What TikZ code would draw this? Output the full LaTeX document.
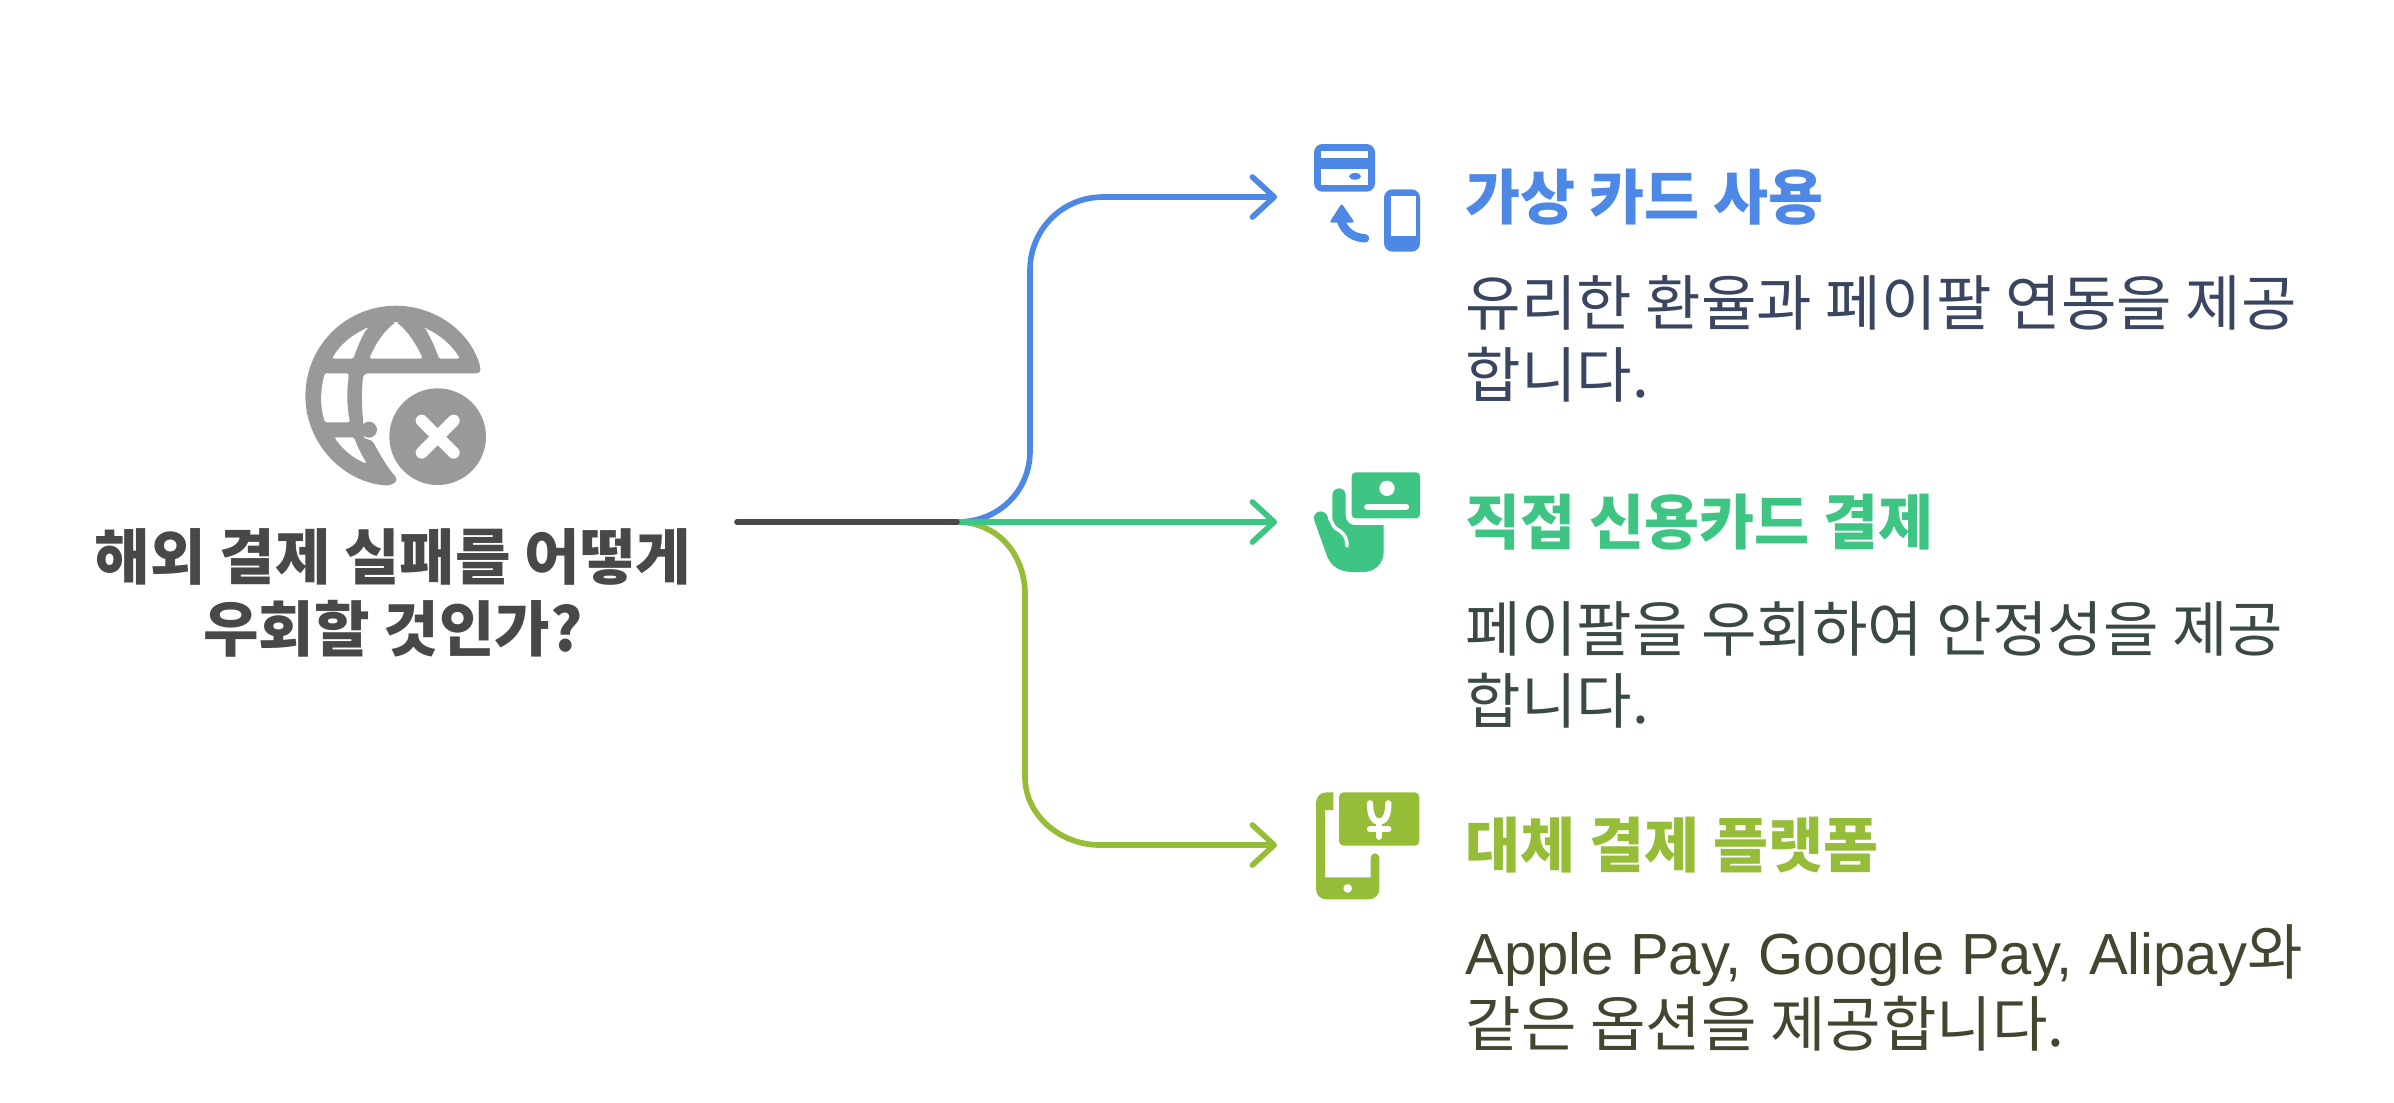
\documentclass[tikz,border=0pt]{standalone}
\usepackage{fontspec}
\usetikzlibrary{arrows.meta}
\setmainfont{Noto Sans CJK KR}
\newfontfamily\latinfont[Scale=0.962]{Liberation Sans}

\definecolor{bluetone}{HTML}{4E88E7}
\definecolor{greentone}{HTML}{3EC583}
\definecolor{olivetone}{HTML}{95BD37}
\definecolor{globegray}{HTML}{999999}
\definecolor{titletone}{HTML}{484848}
\definecolor{bluetext}{HTML}{3A4560}
\definecolor{greentext}{HTML}{3A4A42}
\definecolor{olivetext}{HTML}{44452F}

\tikzset{
    branch/.style={line width=1.6pt, line cap=round, -{Straight Barb[length=6.2pt,width=11.4pt,round,line width=1.6pt]}},
    heading/.style={anchor=west, inner sep=0pt, font=\fontsize{17}{20}\selectfont\bfseries},
    bodytext/.style={anchor=north west, inner sep=0pt, align=left, font=\fontsize{17.15}{20.5}\selectfont},
}

\begin{document}
\begin{tikzpicture}[x=0.01cm, y=-0.01cm]
    \useasboundingbox (0,0) rectangle (2394,1102);

    % Globe icon
    \begin{scope}[shift={(280,280)}, scale=1/3]
        \fill[globegray, rounded corners=1.2pt] (600,255) arc[start angle=-20, end angle=-267, radius=270]
            -- (355,600) .. controls (320,560) and (295,515) .. (275,478) -- (250,478) -- (250,425)
            .. controls (245,380) and (245,330) .. (250,280) -- (603,280) -- cycle;
        \fill[globegray] (267,449) circle (24);
        \fill[white, rounded corners=0.5pt] (348,126) .. controls (310,155) and (285,195) .. (268,236) -- (428,236) .. controls (410,195) and (385,155) .. cycle;
        \fill[white, rounded corners=0.5pt] (260,145) .. controls (215,165) and (180,195) .. (156,236) -- (220,236) .. controls (230,205) and (243,175) .. cycle;
        \fill[white, rounded corners=0.5pt] (436,145) .. controls (480,165) and (515,195) .. (540,236) -- (477,236) .. controls (467,205) and (453,175) .. cycle;
        \fill[white, rounded corners=0.5pt] (135,280) -- (207,280) .. controls (200,330) and (200,380) .. (210,427) -- (135,427) .. controls (120,380) and (120,330) .. cycle;
        \fill[white, rounded corners=0.5pt] (163,472) -- (222,472) .. controls (232,500) and (245,525) .. (260,551) .. controls (220,535) and (190,510) .. cycle;
        \fill[globegray] (473,470) circle (145);
        \draw[white, line width=3.4pt, line cap=round] (425,422) -- (521,518) (521,422) -- (425,518);
    \end{scope}

    % Title
    \node[anchor=center, inner sep=0pt, align=center, text=titletone, font=\fontsize{17.15}{20.5}\selectfont\bfseries] (title) at (393,593) {해외 결제 실패를 어떻게\\우회할 것인가?};

    % Connectors
    \coordinate (stem) at (737,522);
    \coordinate (hub) at (957,522);
    \coordinate (tipa) at (1277,197);
    \coordinate (tipb) at (1277,522);
    \coordinate (tipc) at (1277,845);
    \draw[branch, bluetone] (hub) .. controls (1000,522) and (1030,490) .. (1030,451) -- (1030,270) .. controls (1030,230) and (1062,197) .. (1103,197) -- (tipa);
    \draw[branch, olivetone] (hub) .. controls (998,522) and (1025,555) .. (1025,594) -- (1025,777) .. controls (1025,815) and (1060,845) .. (1100,845) -- (tipc);
    \draw[branch, greentone] (hub) -- (tipb);
    \draw[line width=1.6pt, line cap=round, titletone] (stem) -- (hub);

    % Virtual card icon
    \begin{scope}[shift={(1290,130)}, scale=1/3]
        \fill[bluetone, rounded corners=2.4pt] (72,42) rectangle (255,185);
        \fill[white] (92,62) rectangle (235,83);
        \fill[white] (92,116) rectangle (235,165);
        \fill[bluetone] (195,139) ellipse (18 and 10);
        \fill[bluetone, rounded corners=2.4pt] (282,178) rectangle (390,365);
        \fill[white] (302,197) rectangle (377,318);
        \draw[bluetone, line width=2.4pt, line cap=round] (225,325) .. controls (195,323) and (165,310) .. (152,270);
        \fill[bluetone, rounded corners=0.7pt] (155,220) -- (118,278) -- (194,278) -- cycle;
    \end{scope}

    % Credit card icon
    \begin{scope}[shift={(1290,460)}, scale=1/3]
        \fill[greentone, rounded corners=1.1pt] (185,37) rectangle (390,175);
        \fill[white] (291,85) circle (23);
        \draw[white, line width=1.8pt, line cap=round] (232,141) -- (348,141);
        \fill[greentone] (127,105) arc[start angle=180, end angle=360, radius=20] -- (167,165) .. controls (167,185) and (180,195) .. (195,195)
            -- (281,195) -- (281,275) .. controls (281,310) and (255,336) .. (220,336) -- (190,336) .. controls (150,336) and (122,320) .. (110,285)
            -- (73,182) .. controls (65,150) and (105,145) .. (113,170) -- (127,195) -- cycle;
        \draw[white, line width=1pt, line cap=round] (171,258) .. controls (172,225) and (150,212) .. (140,207) .. controls (130,200) and (127,190) .. (118,172);
    \end{scope}

    % Alternative platform icon
    \begin{scope}[shift={(1290,780)}, scale=1/3]
        \fill[olivetone, rounded corners=1.3pt] (147,37) rectangle (388,197);
        \draw[white, line width=1.8pt, line cap=round] (240,70) .. controls (240,105) and (250,125) .. (267,125) .. controls (285,125) and (295,105) .. (295,70);
        \draw[white, line width=1.8pt, line cap=round] (267,125) -- (267,170) (240,147) -- (295,147);
        \fill[olivetone] (130,37) -- (110,37) .. controls (90,37) and (78,50) .. (78,70) -- (78,325) .. controls (78,345) and (90,358) .. (110,358)
            -- (235,358) .. controls (255,358) and (268,345) .. (268,325) -- (268,233) arc[start angle=0, end angle=-180, radius=13]
            -- (242,292) -- (105,292) -- (105,90) -- (130,90) -- cycle;
        \fill[white] (173,325) circle (13);
    \end{scope}

    % Virtual card
    \node[heading, text=bluetone] (heada) at (1465,197) {가상 카드 사용};
    \node[bodytext, text=bluetext] (bodya) at (1465,275) {유리한 환율과 페이팔 연동을 제공\\합니다.};

    % Credit card
    \node[heading, text=greentone] (headb) at (1465,522) {직접 신용카드 결제};
    \node[bodytext, text=greentext] (bodyb) at (1465,601) {페이팔을 우회하여 안정성을 제공\\합니다.};

    % Alternative platform
    \node[heading, text=olivetone] (headc) at (1465,845) {대체 결제 플랫폼};
    \node[bodytext, text=olivetext] (bodyc) at (1465,924) {{\latinfont Apple Pay, Google Pay, Alipay}와\\같은 옵션을 제공합니다.};
\end{tikzpicture}
\end{document}
